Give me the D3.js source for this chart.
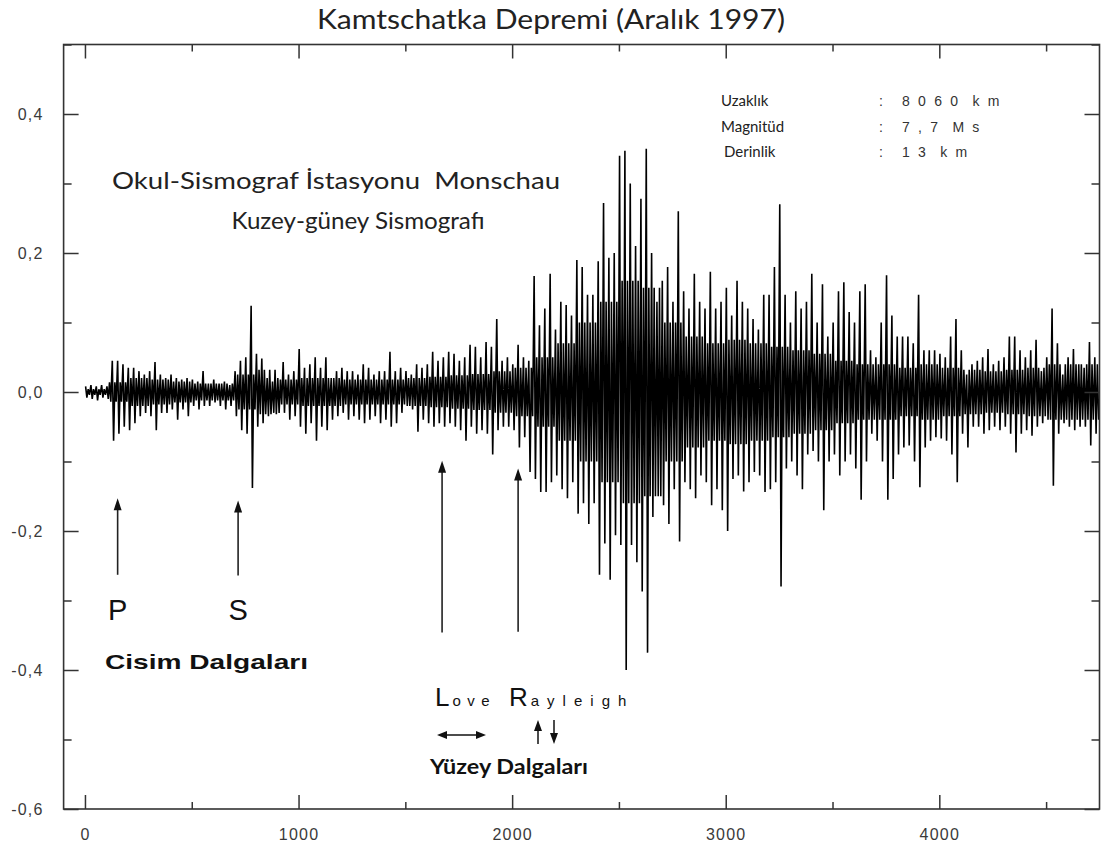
<!DOCTYPE html>
<html>
<head>
<meta charset="utf-8">
<script src="https://cdn.jsdelivr.net/npm/d3@7"></script>
<style>
  body { margin: 0; background: white; }
  svg { display: block; }
</style>
</head>
<body>
<div id="chart"></div>
<script>
const width = 1103, height = 847;

// eksen etiketleri
const xTicks = [0, 1000, 2000, 3000, 4000];
const xMinor = [500, 1500, 2500, 3500, 4500];
const yTicks = [-0.6, -0.4, -0.2, 0, 0.2, 0.4];
const yMinor = [-0.5, -0.3, -0.1, 0.1, 0.3, 0.5];

// sismogram: her 25 birimlik dilimde okunan tepe ve dip degerleri
const waveStep = 25;
const waveTop = [
  0.008, 0.01, 0.008, 0.01, 0.008, 0.045, 0.045, 0.04, 0.035, 0.035,
  0.03, 0.025, 0.03, 0.043, 0.025, 0.02, 0.025, 0.02, 0.018, 0.02,
  0.018, 0.015, 0.03, 0.012, 0.018, 0.012, 0.015, 0.01, 0.03, 0.045,
  0.05, 0.124, 0.055, 0.048, 0.02, 0.015, 0.02, 0.043, 0.025, 0.03,
  0.062, 0.035, 0.04, 0.05, 0.035, 0.05, 0.02, 0.03, 0.035, 0.03,
  0.03, 0.025, 0.04, 0.035, 0.025, 0.03, 0.03, 0.058, 0.03, 0.035,
  0.03, 0.025, 0.04, 0.035, 0.04, 0.058, 0.045, 0.05, 0.058, 0.055,
  0.045, 0.05, 0.068, 0.065, 0.05, 0.072, 0.065, 0.105, 0.045, 0.05,
  0.04, 0.068, 0.05, 0.045, 0.167, 0.096, 0.12, 0.17, 0.09, 0.13,
  0.125, 0.11, 0.19, 0.18, 0.14, 0.14, 0.188, 0.272, 0.193, 0.2,
  0.34, 0.347, 0.3, 0.21, 0.278, 0.35, 0.2, 0.13, 0.16, 0.18,
  0.13, 0.26, 0.145, 0.12, 0.17, 0.13, 0.12, 0.173, 0.12, 0.13,
  0.15, 0.11, 0.16, 0.13, 0.12, 0.105, 0.09, 0.14, 0.14, 0.18,
  0.27, 0.14, 0.1, 0.145, 0.12, 0.13, 0.17, 0.1, 0.155, 0.08,
  0.1, 0.145, 0.158, 0.115, 0.1, 0.145, 0.155, 0.06, 0.05, 0.1,
  0.168, 0.11, 0.08, 0.08, 0.08, 0.07, 0.14, 0.06, 0.06, 0.06,
  0.055, 0.05, 0.08, 0.105, 0.06, 0.025, 0.04, 0.045, 0.05, 0.062,
  0.04, 0.045, 0.05, 0.08, 0.08, 0.06, 0.05, 0.06, 0.075, 0.03,
  0.05, 0.12, 0.07, 0.025, 0.05, 0.062, 0.04, 0.035, 0.072, 0.05
];
const waveBottom = [
  -0.008, -0.01, -0.012, -0.008, -0.01, -0.07, -0.06, -0.05, -0.055, -0.045,
  -0.035, -0.03, -0.035, -0.055, -0.03, -0.03, -0.025, -0.04, -0.025, -0.035,
  -0.02, -0.025, -0.02, -0.02, -0.015, -0.02, -0.025, -0.02, -0.035, -0.055,
  -0.06, -0.138, -0.05, -0.045, -0.035, -0.03, -0.03, -0.03, -0.04, -0.035,
  -0.05, -0.06, -0.045, -0.07, -0.05, -0.055, -0.04, -0.035, -0.03, -0.04,
  -0.035, -0.04, -0.045, -0.04, -0.035, -0.045, -0.04, -0.05, -0.045, -0.03,
  -0.02, -0.025, -0.057, -0.04, -0.045, -0.05, -0.045, -0.05, -0.045, -0.05,
  -0.055, -0.07, -0.05, -0.06, -0.055, -0.06, -0.09, -0.055, -0.05, -0.05,
  -0.055, -0.08, -0.065, -0.115, -0.125, -0.144, -0.144, -0.13, -0.12, -0.14,
  -0.153, -0.13, -0.175, -0.16, -0.19, -0.16, -0.263, -0.218, -0.27, -0.206,
  -0.22, -0.4, -0.22, -0.245, -0.287, -0.375, -0.18, -0.15, -0.163, -0.19,
  -0.14, -0.215, -0.13, -0.14, -0.153, -0.12, -0.13, -0.163, -0.14, -0.17,
  -0.2, -0.125, -0.12, -0.143, -0.13, -0.115, -0.12, -0.144, -0.14, -0.13,
  -0.28, -0.11, -0.1, -0.12, -0.14, -0.09, -0.085, -0.1, -0.17, -0.1,
  -0.09, -0.12, -0.1, -0.09, -0.11, -0.155, -0.1, -0.06, -0.07, -0.1,
  -0.155, -0.125, -0.09, -0.08, -0.077, -0.1, -0.137, -0.08, -0.07, -0.065,
  -0.067, -0.07, -0.09, -0.13, -0.06, -0.08, -0.05, -0.05, -0.06, -0.055,
  -0.05, -0.055, -0.05, -0.06, -0.087, -0.06, -0.055, -0.063, -0.05, -0.045,
  -0.04, -0.135, -0.06, -0.045, -0.05, -0.055, -0.05, -0.05, -0.077, -0.06
];

// koyu (siyah) cekirdek bandin genligi, her 100 birimde
const coreStep = 100;
const coreAmp = [
  0.004, 0.014, 0.02, 0.018, 0.015, 0.012, 0.012, 0.025, 0.032, 0.018,
  0.02, 0.02, 0.018, 0.018, 0.018, 0.02, 0.022, 0.024, 0.026, 0.03,
  0.035, 0.05, 0.07, 0.1, 0.13, 0.16, 0.15, 0.1, 0.08, 0.07,
  0.075, 0.07, 0.065, 0.06, 0.055, 0.045, 0.04, 0.04, 0.035, 0.04,
  0.035, 0.032, 0.03, 0.032, 0.035, 0.04, 0.04, 0.04
];

// dalga varislari
const arrivalNames = ["P", "S", "L", "R"];
const arrivalTimes = [153, 717, 1672, 2028];

const infoLabels = ["Uzaklık", "Magnitüd", "Derinlik"];
const infoValues = ["8 0 6 0  k m", "7 , 7  M s", "1 3  k m"];

const svg = d3.select("#chart").append("svg")
  .attr("width", width)
  .attr("height", height)
  .style("background", "white");

const x = d3.scaleLinear().domain([-100, 4750]).range([63.6, 1099.5]);
const y = d3.scaleLinear().domain([-0.6, 0.5]).range([809, 44.5]);

// virgul ve normal tire
const comma = d => d3.format(".1f")(d).replace(".", ",").replace("\u2212", "-");

// her dilim: tepe, dip, sonra cekirdek bandin iki kenari
const wavePts = [];
waveTop.forEach((v, i) => {
  const t = i * waveStep;
  const c = coreAmp[Math.floor(t / coreStep)];
  wavePts.push([t + 3, v]);
  wavePts.push([t + 9, waveBottom[i]]);
  wavePts.push([t + 15, c]);
  wavePts.push([t + 21, -c]);
});

svg.append("path")
  .datum(wavePts)
  .attr("fill", "none")
  .attr("stroke", "#000")
  .attr("stroke-width", 1.6)
  .attr("stroke-linejoin", "bevel")
  .attr("d", d3.line().x(d => x(d[0])).y(d => y(d[1])));

// cerceve + ticks (iceri dogru)
const axisColor = "#333";
function styleAxis(g, labels) {
  g.select(".domain").remove();
  g.selectAll(".tick line").attr("stroke", axisColor).attr("stroke-width", 1.5);
  g.selectAll(".tick text")
    .attr("fill", "#3a3a3a")
    .style("font-family", "'Liberation Sans', Arial, sans-serif")
    .style("font-size", "16px")
    .style("letter-spacing", "1.2px");
  if (!labels) g.selectAll(".tick text").remove();
}

svg.append("g").attr("transform", `translate(0,${y(-0.6)})`)
  .call(d3.axisBottom(x).tickValues(xTicks).tickSize(-14).tickPadding(20).tickFormat(d3.format("d")))
  .call(g => styleAxis(g, true));
svg.append("g").attr("transform", `translate(0,${y(-0.6)})`)
  .call(d3.axisBottom(x).tickValues(xMinor).tickSize(-7))
  .call(g => styleAxis(g, false));
svg.append("g").attr("transform", `translate(0,${y(0.5)})`)
  .call(d3.axisTop(x).tickValues(xTicks).tickSize(-14))
  .call(g => styleAxis(g, false));
svg.append("g").attr("transform", `translate(0,${y(0.5)})`)
  .call(d3.axisTop(x).tickValues(xMinor).tickSize(-7))
  .call(g => styleAxis(g, false));

svg.append("g").attr("transform", `translate(${x(-100)},0)`)
  .call(d3.axisLeft(y).tickValues(yTicks).tickSize(-15).tickPadding(20).tickFormat(comma))
  .call(g => styleAxis(g, true));
svg.append("g").attr("transform", `translate(${x(-100)},0)`)
  .call(d3.axisLeft(y).tickValues(yMinor).tickSize(-8))
  .call(g => styleAxis(g, false));
svg.append("g").attr("transform", `translate(${x(4750)},0)`)
  .call(d3.axisRight(y).tickValues(yTicks).tickSize(-15))
  .call(g => styleAxis(g, false));
svg.append("g").attr("transform", `translate(${x(4750)},0)`)
  .call(d3.axisRight(y).tickValues(yMinor).tickSize(-8))
  .call(g => styleAxis(g, false));

svg.append("rect")
  .attr("x", x(-100)).attr("y", y(0.5))
  .attr("width", x(4750) - x(-100)).attr("height", y(-0.6) - y(0.5))
  .attr("fill", "none").attr("stroke", axisColor).attr("stroke-width", 1.6);

// basliklar
const calibri = "Lato, 'Open Sans', sans-serif";
const arial = "'Liberation Sans', Arial, sans-serif";

svg.append("text")
  .attr("x", 551).attr("y", 29)
  .attr("text-anchor", "middle")
  .attr("textLength", 468).attr("lengthAdjust", "spacingAndGlyphs")
  .style("font-family", calibri).style("font-size", "26px").attr("fill", "#222")
  .text("Kamtschatka Depremi (Aralık 1997)");

svg.append("text")
  .attr("x", 336).attr("y", 189)
  .attr("text-anchor", "middle")
  .attr("textLength", 448).attr("lengthAdjust", "spacingAndGlyphs")
  .style("font-family", calibri).style("font-size", "23px").attr("fill", "#222")
  .style("white-space", "pre")
  .text("Okul-Sismograf İstasyonu  Monschau");

svg.append("text")
  .attr("x", 358).attr("y", 229)
  .attr("text-anchor", "middle")
  .attr("textLength", 253).attr("lengthAdjust", "spacingAndGlyphs")
  .style("font-family", calibri).style("font-size", "23px").attr("fill", "#222")
  .text("Kuzey-güney Sismografı");

// bilgi kutusu
infoLabels.forEach((lab, i) => {
  svg.append("text")
    .attr("x", i == 2 ? 724 : 721).attr("y", 106 + i * 25.5)
    .style("font-family", calibri).style("font-size", "15px").attr("fill", "#222")
    .text(lab);
  svg.append("text")
    .attr("x", 879).attr("y", 106 + i * 25.5)
    .style("font-family", arial).style("font-size", "14px").attr("fill", "#333")
    .text(":");
  svg.append("text")
    .attr("x", 902).attr("y", 106 + i * 25.5)
    .style("font-family", arial).style("font-size", "14px").attr("fill", "#333")
    .style("white-space", "pre").style("letter-spacing", "2.2px")
    .text(infoValues[i]);
});

// oklar
const arrowTips = [-0.153, -0.156, -0.099, -0.11];
const arrowTails = [-0.263, -0.264, -0.346, -0.345];
arrivalTimes.forEach((t, i) => {
  const ax = x(t), ty = y(arrowTips[i]);
  svg.append("line")
    .attr("x1", ax).attr("x2", ax)
    .attr("y1", y(arrowTails[i])).attr("y2", ty + 6)
    .attr("stroke", "#222").attr("stroke-width", 1.6);
  svg.append("path")
    .attr("d", `M${ax},${ty} L${ax - 4},${ty + 12} L${ax + 4},${ty + 12} Z`)
    .attr("fill", "#111");
});

// P ve S harfleri
[0, 1].forEach(i => {
  svg.append("text")
    .attr("x", x(arrivalTimes[i])).attr("y", 620)
    .attr("text-anchor", "middle")
    .style("font-family", arial).style("font-size", "29px").attr("fill", "#111")
    .text(arrivalNames[i]);
});

svg.append("text")
  .attr("x", 105).attr("y", 669)
  .attr("textLength", 203).attr("lengthAdjust", "spacingAndGlyphs")
  .style("font-family", arial).style("font-size", "21px").style("font-weight", "bold").attr("fill", "#111")
  .text("Cisim Dalgaları");

// Love / Rayleigh
const lr = svg.append("text")
  .attr("x", 435).attr("y", 706)
  .style("font-family", arial).attr("fill", "#111");
lr.append("tspan").style("font-size", "26px").text("L");
lr.append("tspan").attr("dx", 3).style("font-size", "15px").style("letter-spacing", "6.5px").text("ove");
lr.append("tspan").attr("x", 509).style("font-size", "26px").text("R");
lr.append("tspan").attr("dx", 3).style("font-size", "15px").style("letter-spacing", "8px").text("ayleigh");

// yatay cift ok (Love)
svg.append("line").attr("x1", 440).attr("x2", 482).attr("y1", 735).attr("y2", 735)
  .attr("stroke", "#111").attr("stroke-width", 1.5);
svg.append("path").attr("d", "M437,735 L447,731 L447,739 Z").attr("fill", "#111");
svg.append("path").attr("d", "M486,735 L476,731 L476,739 Z").attr("fill", "#111");

// dikey oklar (Rayleigh)
svg.append("line").attr("x1", 538).attr("x2", 538).attr("y1", 728).attr("y2", 744)
  .attr("stroke", "#111").attr("stroke-width", 1.5);
svg.append("path").attr("d", "M538,720 L534,731 L542,731 Z").attr("fill", "#111");
svg.append("line").attr("x1", 554).attr("x2", 554).attr("y1", 720).attr("y2", 736)
  .attr("stroke", "#111").attr("stroke-width", 1.5);
svg.append("path").attr("d", "M554,744 L550,733 L558,733 Z").attr("fill", "#111");

svg.append("text")
  .attr("x", 430).attr("y", 774)
  .attr("textLength", 158).attr("lengthAdjust", "spacingAndGlyphs")
  .style("font-family", calibri).style("font-size", "20px").style("font-weight", "bold").attr("fill", "#111")
  .text("Yüzey Dalgaları");
</script>
</body>
</html>
